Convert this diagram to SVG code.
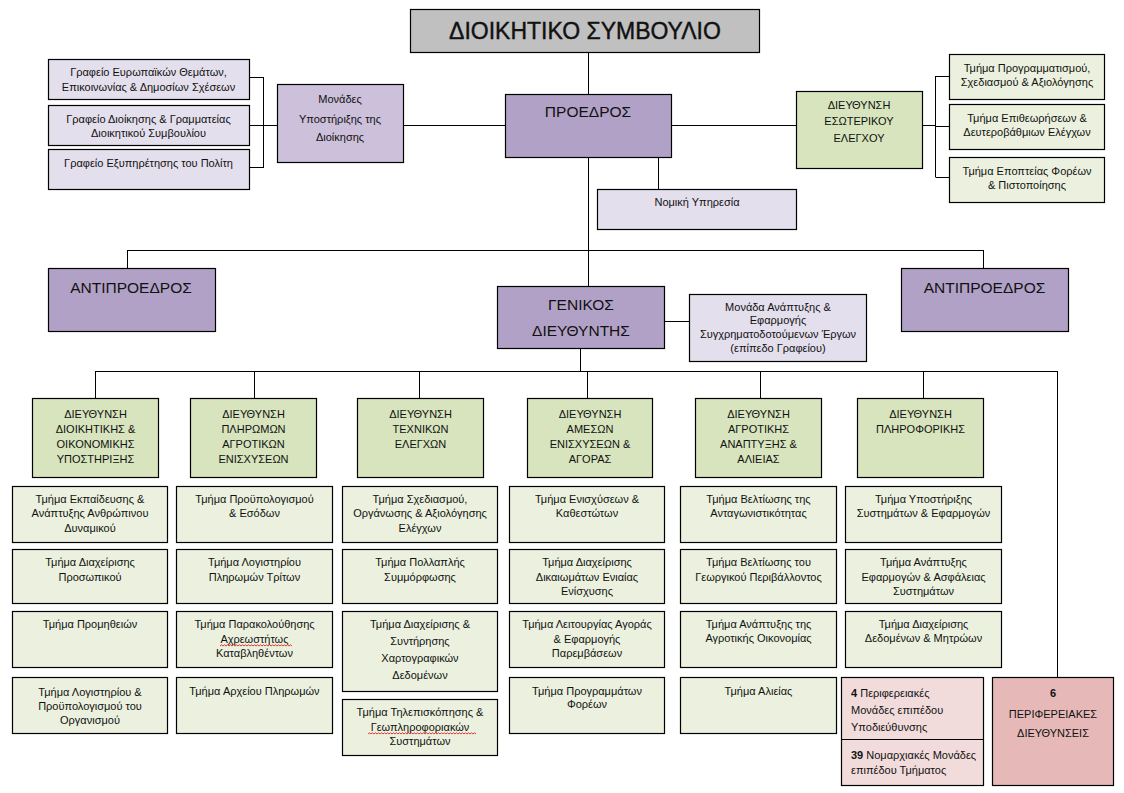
<svg xmlns="http://www.w3.org/2000/svg" width="1124" height="793" viewBox="0 0 1124 793">
<style>
text{font-family:"Liberation Sans",Arial,sans-serif;fill:#111;text-anchor:middle}
.f23{font-size:23px}.f15{font-size:15.5px}.f11{font-size:11px}.f10{font-size:11px}
.l{stroke:#000;stroke-width:1;fill:none}
.b{stroke:#000;stroke-width:1.2}
.gr{fill:#c0c0c0}.pd{fill:#b2a1c7}.pm{fill:#ccc0da}.pl{fill:#e4dfec}
.gd{fill:#d7e4bd}.gl{fill:#ebf1de}.rl{fill:#f2dcdb}.rd{fill:#e6b9b8}
.sq{stroke:#e02020;stroke-width:0.9;fill:none}
.lt{text-anchor:start}
.tt{stroke:#111;stroke-width:0.4}
</style>
<rect width="1124" height="793" fill="#fff"/>
<g id="connectors">
<path class="l" d="M588.5 52V94M588.5 157V286M403 125.5H505M249 77.5H263.5M249 125.5H277M249 167.5H263.5M263.5 77V168M672 125.5H796M922 125.5H935.5M935.5 76V177M935.5 76.5H949M935.5 126.5H949M935.5 177.5H949M658.5 157V189M127.5 250.5H983.5M127.5 250V268M983.5 250V268M664 321.5H689M580.5 348V371M95 371.5H1057.5M95.5 371V398M254.5 371V398M419.5 371V398M587.5 371V398M760.5 371V398M923.5 371V398M1057.5 371V677"/>
</g>
<g id="title"><rect class="gr b" x="410.5" y="9.5" width="349" height="43"/><text class="f23 tt" x="585" y="39">ΔΙΟΙΚΗΤΙΚΟ ΣΥΜΒΟΥΛΙΟ</text></g>
<g id="proedros"><rect class="pd b" x="505.5" y="94.5" width="166" height="63"/><text class="f15" x="588" y="116.5">ΠΡΟΕΔΡΟΣ</text></g>
<g id="grafeio1"><rect class="pl b" x="48.5" y="59.5" width="201" height="40"/><text class="f10" x="148.5" y="75.5">Γραφείο Ευρωπαϊκών Θεμάτων,</text><text class="f10" x="148.5" y="90.5">Επικοινωνίας &amp; Δημοσίων Σχέσεων</text></g>
<g id="grafeio2"><rect class="pl b" x="48.5" y="105.5" width="201" height="40"/><text class="f10" x="148.5" y="122.5">Γραφείο Διοίκησης &amp; Γραμματείας</text><text class="f10" x="148.5" y="136.5">Διοικητικού  Συμβουλίου</text></g>
<g id="grafeio3"><rect class="pl b" x="48.5" y="149.5" width="201" height="40"/><text class="f10" x="148.5" y="166.5">Γραφείο Εξυπηρέτησης του Πολίτη</text></g>
<g id="monades"><rect class="pm b" x="277.5" y="84.5" width="126" height="78"/><text class="f11" x="340" y="103">Μονάδες</text><text class="f11" x="340" y="123">Υποστήριξης της</text><text class="f11" x="340" y="141">Διοίκησης</text></g>
<g id="nomiki"><rect class="pl b" x="597.5" y="189.5" width="199" height="40"/><text class="f10" x="697" y="205.5">Νομική Υπηρεσία</text></g>
<g id="esoterikos"><rect class="gd b" x="796.5" y="91.5" width="126" height="77"/><text class="f11" x="859" y="109">ΔΙΕΥΘΥΝΣΗ</text><text class="f11" x="859" y="125">ΕΣΩΤΕΡΙΚΟΥ</text><text class="f11" x="859" y="142">ΕΛΕΓΧΟΥ</text></g>
<g id="tm-prog"><rect class="gl b" x="949.5" y="54.5" width="155" height="45"/><text class="f10" x="1027" y="71.5">Τμήμα Προγραμματισμού,</text><text class="f10" x="1027" y="85.5">Σχεδιασμού &amp; Αξιολόγησης</text></g>
<g id="tm-epith"><rect class="gl b" x="949.5" y="104.5" width="155" height="45"/><text class="f10" x="1027" y="121.5">Τμήμα Επιθεωρήσεων &amp;</text><text class="f10" x="1027" y="135.5">Δευτεροβάθμιων Ελέγχων</text></g>
<g id="tm-epopt"><rect class="gl b" x="949.5" y="157.5" width="155" height="45"/><text class="f10" x="1027" y="174.5">Τμήμα Εποπτείας Φορέων</text><text class="f10" x="1027" y="188.5">&amp; Πιστοποίησης</text></g>
<g id="antiproedros-l"><rect class="pd b" x="48.5" y="268.5" width="167" height="63"/><text class="f15" x="131" y="292.5">ΑΝΤΙΠΡΟΕΔΡΟΣ</text></g>
<g id="antiproedros-r"><rect class="pd b" x="901.5" y="268.5" width="167" height="63"/><text class="f15" x="984.5" y="292.5">ΑΝΤΙΠΡΟΕΔΡΟΣ</text></g>
<g id="genikos"><rect class="pd b" x="497.5" y="286.5" width="167" height="62"/><text class="f15" x="581" y="309.5">ΓΕΝΙΚΟΣ</text><text class="f15" x="581" y="335.5">ΔΙΕΥΘΥΝΤΗΣ</text></g>
<g id="monada-anaptyxis"><rect class="pl b" x="689.5" y="294.5" width="177" height="67"/><text class="f10" x="778" y="311">Μονάδα Ανάπτυξης &amp;</text><text class="f10" x="778" y="324">Εφαρμογής</text><text class="f10" x="778" y="338">Συγχρηματοδοτούμενων Έργων</text><text class="f10" x="778" y="352">(επίπεδο Γραφείου)</text></g>
<g id="dir1"><rect class="gd b" x="32.5" y="398.5" width="126" height="79"/><text class="f11" x="95.5" y="418">ΔΙΕΥΘΥΝΣΗ</text><text class="f11" x="95.5" y="433">ΔΙΟΙΚΗΤΙΚΗΣ &amp;</text><text class="f11" x="95.5" y="448">ΟΙΚΟΝΟΜΙΚΗΣ</text><text class="f11" x="95.5" y="463">ΥΠΟΣΤΗΡΙΞΗΣ</text></g>
<g id="dir2"><rect class="gd b" x="190.5" y="398.5" width="126" height="79"/><text class="f11" x="253.5" y="418">ΔΙΕΥΘΥΝΣΗ</text><text class="f11" x="253.5" y="433">ΠΛΗΡΩΜΩΝ</text><text class="f11" x="253.5" y="448">ΑΓΡΟΤΙΚΩΝ</text><text class="f11" x="253.5" y="463">ΕΝΙΣΧΥΣΕΩΝ</text></g>
<g id="dir3"><rect class="gd b" x="357.5" y="398.5" width="126" height="79"/><text class="f11" x="420.5" y="418">ΔΙΕΥΘΥΝΣΗ</text><text class="f11" x="420.5" y="433">ΤΕΧΝΙΚΩΝ</text><text class="f11" x="420.5" y="448">ΕΛΕΓΧΩΝ</text></g>
<g id="dir4"><rect class="gd b" x="527.5" y="398.5" width="125" height="79"/><text class="f11" x="590" y="418">ΔΙΕΥΘΥΝΣΗ</text><text class="f11" x="590" y="433">ΑΜΕΣΩΝ</text><text class="f11" x="590" y="448">ΕΝΙΣΧΥΣΕΩΝ &amp;</text><text class="f11" x="590" y="463">ΑΓΟΡΑΣ</text></g>
<g id="dir5"><rect class="gd b" x="695.5" y="398.5" width="126" height="79"/><text class="f11" x="758.5" y="418">ΔΙΕΥΘΥΝΣΗ</text><text class="f11" x="758.5" y="433">ΑΓΡΟΤΙΚΗΣ</text><text class="f11" x="758.5" y="448">ΑΝΑΠΤΥΞΗΣ &amp;</text><text class="f11" x="758.5" y="463">ΑΛΙΕΙΑΣ</text></g>
<g id="dir6"><rect class="gd b" x="857.5" y="398.5" width="126" height="79"/><text class="f11" x="920.5" y="418">ΔΙΕΥΘΥΝΣΗ</text><text class="f11" x="920.5" y="433">ΠΛΗΡΟΦΟΡΙΚΗΣ</text></g>
<g id="c1r1"><rect class="gl b" x="12.5" y="486.5" width="155" height="56"/><text class="f10" x="90" y="503">Τμήμα Εκπαίδευσης &amp;</text><text class="f10" x="90" y="517">Ανάπτυξης Ανθρώπινου</text><text class="f10" x="90" y="532">Δυναμικού</text></g>
<g id="c1r2"><rect class="gl b" x="12.5" y="549.5" width="155" height="54"/><text class="f10" x="90" y="566">Τμήμα Διαχείρισης</text><text class="f10" x="90" y="581">Προσωπικού</text></g>
<g id="c1r3"><rect class="gl b" x="12.5" y="611.5" width="155" height="56"/><text class="f10" x="90" y="628">Τμήμα Προμηθειών</text></g>
<g id="c1r4"><rect class="gl b" x="12.5" y="677.5" width="155" height="56"/><text class="f10" x="90" y="696">Τμήμα Λογιστηρίου &amp;</text><text class="f10" x="90" y="710">Προϋπολογισμού του</text><text class="f10" x="90" y="724">Οργανισμού</text></g>
<g id="c2r1"><rect class="gl b" x="176.5" y="486.5" width="156" height="56"/><text class="f10" x="254.5" y="503">Τμήμα Προϋπολογισμού</text><text class="f10" x="254.5" y="517">&amp; Εσόδων</text></g>
<g id="c2r2"><rect class="gl b" x="176.5" y="549.5" width="156" height="54"/><text class="f10" x="254.5" y="566">Τμήμα Λογιστηρίου</text><text class="f10" x="254.5" y="581">Πληρωμών Τρίτων</text></g>
<g id="c2r3"><rect class="gl b" x="176.5" y="611.5" width="156" height="56"/><text class="f10" x="254.5" y="628">Τμήμα Παρακολούθησης</text><text class="f10" x="254.5" y="643">Αχρεωστήτως</text><text class="f10" x="254.5" y="657">Καταβληθέντων</text><path class="sq" d="M220 646l1.5 -1.2 1.5 1.2 1.5 -1.2 1.5 1.2 1.5 -1.2 1.5 1.2 1.5 -1.2 1.5 1.2 1.5 -1.2 1.5 1.2 1.5 -1.2 1.5 1.2 1.5 -1.2 1.5 1.2 1.5 -1.2 1.5 1.2 1.5 -1.2 1.5 1.2 1.5 -1.2 1.5 1.2 1.5 -1.2 1.5 1.2 1.5 -1.2 1.5 1.2 1.5 -1.2 1.5 1.2 1.5 -1.2 1.5 1.2 1.5 -1.2 1.5 1.2 1.5 -1.2 1.5 1.2 1.5 -1.2 1.5 1.2 1.5 -1.2 1.5 1.2 1.5 -1.2 1.5 1.2 1.5 -1.2 1.5 1.2 1.5 -1.2 1.5 1.2 1.5 -1.2 1.5 1.2 1.5 -1.2 1.5 1.2 1.5 -1.2 1.5 1.2"/></g>
<g id="c2r4"><rect class="gl b" x="176.5" y="677.5" width="156" height="56"/><text class="f10" x="254.5" y="695">Τμήμα Αρχείου Πληρωμών</text></g>
<g id="c3r1"><rect class="gl b" x="342.5" y="486.5" width="155" height="56"/><text class="f10" x="420" y="503">Τμήμα Σχεδιασμού,</text><text class="f10" x="420" y="517">Οργάνωσης &amp; Αξιολόγησης</text><text class="f10" x="420" y="532">Ελέγχων</text></g>
<g id="c3r2"><rect class="gl b" x="342.5" y="549.5" width="155" height="54"/><text class="f10" x="420" y="566">Τμήμα Πολλαπλής</text><text class="f10" x="420" y="581">Συμμόρφωσης</text></g>
<g id="c3r3"><rect class="gl b" x="342.5" y="611.5" width="155" height="80"/><text class="f10" x="420" y="628">Τμήμα Διαχείρισης &amp;</text><text class="f10" x="420" y="645">Συντήρησης</text><text class="f10" x="420" y="662">Χαρτογραφικών</text><text class="f10" x="420" y="679">Δεδομένων</text></g>
<g id="c3r4"><rect class="gl b" x="342.5" y="699.5" width="155" height="56"/><text class="f10" x="420" y="716">Τμήμα Τηλεπισκόπησης &amp;</text><text class="f10" x="420" y="731">Γεωπληροφοριακών</text><text class="f10" x="420" y="745">Συστημάτων</text><path class="sq" d="M368 734l1.5 -1.2 1.5 1.2 1.5 -1.2 1.5 1.2 1.5 -1.2 1.5 1.2 1.5 -1.2 1.5 1.2 1.5 -1.2 1.5 1.2 1.5 -1.2 1.5 1.2 1.5 -1.2 1.5 1.2 1.5 -1.2 1.5 1.2 1.5 -1.2 1.5 1.2 1.5 -1.2 1.5 1.2 1.5 -1.2 1.5 1.2 1.5 -1.2 1.5 1.2 1.5 -1.2 1.5 1.2 1.5 -1.2 1.5 1.2 1.5 -1.2 1.5 1.2 1.5 -1.2 1.5 1.2 1.5 -1.2 1.5 1.2 1.5 -1.2 1.5 1.2 1.5 -1.2 1.5 1.2 1.5 -1.2 1.5 1.2 1.5 -1.2 1.5 1.2 1.5 -1.2 1.5 1.2 1.5 -1.2 1.5 1.2 1.5 -1.2 1.5 1.2 1.5 -1.2 1.5 1.2 1.5 -1.2 1.5 1.2 1.5 -1.2 1.5 1.2 1.5 -1.2 1.5 1.2 1.5 -1.2 1.5 1.2 1.5 -1.2 1.5 1.2 1.5 -1.2 1.5 1.2 1.5 -1.2 1.5 1.2 1.5 -1.2 1.5 1.2 1.5 -1.2 1.5 1.2 1.5 -1.2 1.5 1.2 1.5 -1.2 1.5 1.2"/></g>
<g id="c4r1"><rect class="gl b" x="509.5" y="486.5" width="155" height="56"/><text class="f10" x="587" y="503">Τμήμα Ενισχύσεων &amp;</text><text class="f10" x="587" y="517">Καθεστώτων</text></g>
<g id="c4r2"><rect class="gl b" x="509.5" y="549.5" width="155" height="54"/><text class="f10" x="587" y="566">Τμήμα Διαχείρισης</text><text class="f10" x="587" y="581">Δικαιωμάτων  Ενιαίας</text><text class="f10" x="587" y="595">Ενίσχυσης</text></g>
<g id="c4r3"><rect class="gl b" x="509.5" y="611.5" width="155" height="56"/><text class="f10" x="587" y="628">Τμήμα Λειτουργίας Αγοράς</text><text class="f10" x="587" y="643">&amp; Εφαρμογής</text><text class="f10" x="587" y="657">Παρεμβάσεων</text></g>
<g id="c4r4"><rect class="gl b" x="509.5" y="677.5" width="155" height="56"/><text class="f10" x="587" y="695">Τμήμα Προγραμμάτων</text><text class="f10" x="587" y="708">Φορέων</text></g>
<g id="c5r1"><rect class="gl b" x="680.5" y="486.5" width="156" height="56"/><text class="f10" x="758.5" y="503">Τμήμα Βελτίωσης της</text><text class="f10" x="758.5" y="517">Ανταγωνιστικότητας</text></g>
<g id="c5r2"><rect class="gl b" x="680.5" y="549.5" width="156" height="54"/><text class="f10" x="758.5" y="566">Τμήμα Βελτίωσης του</text><text class="f10" x="758.5" y="581">Γεωργικού Περιβάλλοντος</text></g>
<g id="c5r3"><rect class="gl b" x="680.5" y="611.5" width="156" height="56"/><text class="f10" x="758.5" y="628">Τμήμα Ανάπτυξης  της</text><text class="f10" x="758.5" y="642">Αγροτικής Οικονομίας</text></g>
<g id="c5r4"><rect class="gl b" x="680.5" y="677.5" width="156" height="56"/><text class="f10" x="758.5" y="695">Τμήμα Αλιείας</text></g>
<g id="c6r1"><rect class="gl b" x="845.5" y="486.5" width="156" height="56"/><text class="f10" x="923.5" y="503">Τμήμα Υποστήριξης</text><text class="f10" x="923.5" y="517">Συστημάτων &amp; Εφαρμογών</text></g>
<g id="c6r2"><rect class="gl b" x="845.5" y="549.5" width="156" height="54"/><text class="f10" x="923.5" y="566">Τμήμα Ανάπτυξης</text><text class="f10" x="923.5" y="581">Εφαρμογών &amp; Ασφάλειας</text><text class="f10" x="923.5" y="595">Συστημάτων</text></g>
<g id="c6r3"><rect class="gl b" x="845.5" y="611.5" width="156" height="56"/><text class="f10" x="923.5" y="628">Τμήμα Διαχείρισης</text><text class="f10" x="923.5" y="642">Δεδομένων &amp; Μητρώων</text></g>
<g id="perif-monades"><rect class="rl b" x="841.5" y="677.5" width="142" height="108"/><path class="l" d="M841.5 739.5H983.5"/><text class="f10 lt" x="851" y="697"><tspan font-weight="bold">4</tspan> Περιφερειακές</text><text class="f10 lt" x="851" y="714">Μονάδες επιπέδου</text><text class="f10 lt" x="851" y="731">Υποδιεύθυνσης</text><text class="f10 lt" x="851" y="759"><tspan font-weight="bold">39</tspan> Νομαρχιακές Μονάδες</text><text class="f10 lt" x="851" y="774">επιπέδου Τμήματος</text></g>
<g id="perif-dieuth"><rect class="rd b" x="992.5" y="677.5" width="121" height="108"/><text class="f11" x="1053" y="697" font-weight="bold">6</text><text class="f11" x="1053" y="718">ΠΕΡΙΦΕΡΕΙΑΚΕΣ</text><text class="f11" x="1053" y="737">ΔΙΕΥΘΥΝΣΕΙΣ</text></g>
</svg>
